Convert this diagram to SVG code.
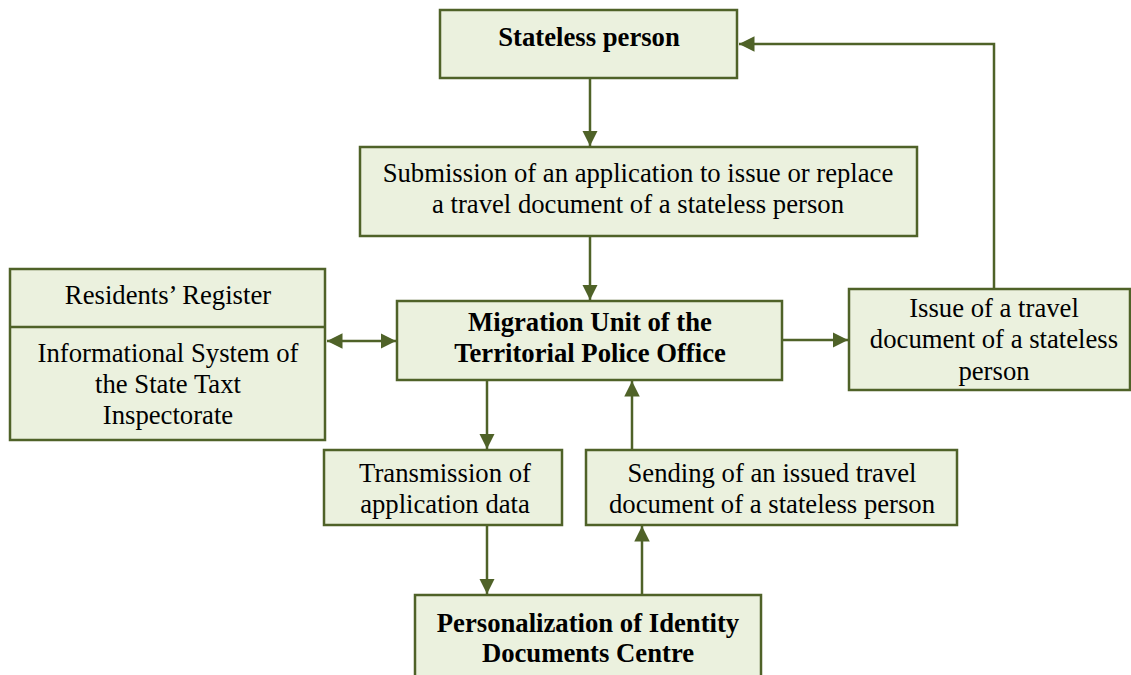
<svg xmlns="http://www.w3.org/2000/svg" width="1131" height="675" viewBox="0 0 1131 675">
<style>
.box{fill:#ebf1de;stroke:#4f6228;stroke-width:2.5}
.t{font-family:"Liberation Serif","Times New Roman",serif;font-size:26.7px;fill:#000;text-anchor:middle}
.b{font-weight:bold}
.c{fill:none;stroke:#4f6228;stroke-width:2.5}
</style>
<defs>
<marker id="ah" viewBox="0 0 10 10" refX="10" refY="5" markerWidth="6.2" markerHeight="6.2" orient="auto-start-reverse" markerUnits="strokeWidth">
<path d="M0,0 L10,5 L0,10 z" fill="#4f6228"/>
</marker>
</defs>
<rect width="1131" height="675" fill="#fff"/>
<g id="connectors">
<line class="c" x1="590" y1="78" x2="590" y2="146" marker-end="url(#ah)"/>
<line class="c" x1="590" y1="236" x2="590" y2="300" marker-end="url(#ah)"/>
<line class="c" x1="327" y1="341" x2="396" y2="341" marker-start="url(#ah)" marker-end="url(#ah)"/>
<line class="c" x1="782" y1="340" x2="848" y2="340" marker-end="url(#ah)"/>
<polyline class="c" points="994,289 994,44 739,44" marker-end="url(#ah)"/>
<line class="c" x1="487" y1="380" x2="487" y2="449" marker-end="url(#ah)"/>
<line class="c" x1="632" y1="450" x2="632" y2="381" marker-end="url(#ah)"/>
<line class="c" x1="487" y1="525" x2="487" y2="594" marker-end="url(#ah)"/>
<line class="c" x1="642" y1="595" x2="642" y2="526" marker-end="url(#ah)"/>
</g>
<g id="stateless">
<rect class="box" x="440" y="10" width="297" height="68"/>
<text class="t b" x="589" y="46">Stateless person</text>
</g>
<g id="submission">
<rect class="box" x="360" y="147" width="557" height="89"/>
<text class="t" x="638" y="182">Submission of an application to issue or replace</text>
<text class="t" x="638" y="213">a travel document of a stateless person</text>
</g>
<g id="registers">
<rect class="box" x="10" y="269" width="315" height="171"/>
<line class="c" x1="10" y1="327" x2="325" y2="327"/>
<text class="t" x="168" y="304">Residents’ Register</text>
<text class="t" x="168" y="362">Informational System of</text>
<text class="t" x="168" y="393">the State Taxt</text>
<text class="t" x="168" y="424">Inspectorate</text>
</g>
<g id="migration">
<rect class="box" x="397" y="301" width="385" height="79"/>
<text class="t b" x="590" y="331">Migration Unit of the</text>
<text class="t b" x="590" y="362">Territorial Police Office</text>
</g>
<g id="issue">
<rect class="box" x="849" y="289" width="281" height="101"/>
<text class="t" x="994" y="317">Issue of a travel</text>
<text class="t" x="994" y="348">document of a stateless</text>
<text class="t" x="994" y="380">person</text>
</g>
<g id="transmission">
<rect class="box" x="324" y="450" width="238" height="75"/>
<text class="t" x="445" y="482">Transmission of</text>
<text class="t" x="445" y="513">application data</text>
</g>
<g id="sending">
<rect class="box" x="586" y="450" width="371" height="75"/>
<text class="t" x="772" y="482">Sending of an issued travel</text>
<text class="t" x="772" y="513">document of a stateless person</text>
</g>
<g id="personalization">
<rect class="box" x="415" y="595" width="346" height="90"/>
<text class="t b" x="588" y="632">Personalization of Identity</text>
<text class="t b" x="588" y="662">Documents Centre</text>
</g>
</svg>
